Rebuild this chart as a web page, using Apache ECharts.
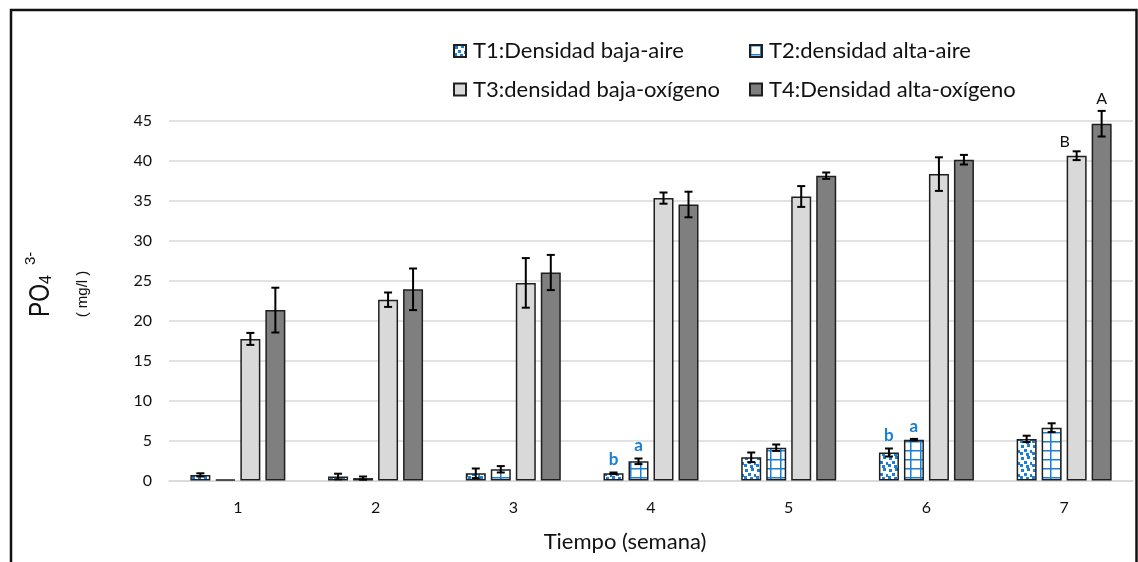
<!DOCTYPE html>
<html><head><meta charset="utf-8">
<script src="https://cdn.jsdelivr.net/npm/echarts@6/dist/echarts.min.js"></script>
<style>html,body{margin:0;padding:0;background:#fff}#c{width:1138px;height:562px}</style>
</head><body><div id="c"></div>
<script>
const categories = ['1','2','3','4','5','6','7'];
const seriesNames = ['T1:Densidad baja-aire','T2:densidad alta-aire','T3:densidad baja-oxígeno','T4:Densidad alta-oxígeno'];
const t1 = [0.7, 0.5, 0.9, 0.9, 2.9, 3.5, 5.2];
const t1Err = [0.2, 0.35, 0.6, 0.1, 0.6, 0.5, 0.4];
const t2 = [0.1, 0.3, 1.4, 2.4, 4.1, 5.1, 6.6];
const t2Err = [0, 0.2, 0.4, 0.35, 0.4, 0.1, 0.55];
const t3 = [17.7, 22.6, 24.7, 35.3, 35.5, 38.3, 40.6];
const t3Err = [0.75, 0.9, 3.1, 0.7, 1.3, 2.1, 0.55];
const t4 = [21.3, 23.9, 26.0, 34.5, 38.1, 40.1, 44.6];
const t4Err = [2.8, 2.6, 2.2, 1.6, 0.4, 0.6, 1.6];
const t1Letters = ['', '', '', 'b', '', 'b', ''];
const t2Letters = ['', '', '', 'a', '', 'a', ''];
const t3Letters = ['', '', '', '', '', '', 'B'];
const t4Letters = ['', '', '', '', '', '', 'A'];
const yTicks = [0,5,10,15,20,25,30,35,40,45];
const xTitle = 'Tiempo (semana)';

const BLUE = '#1b7fd3';
function dotPattern(){
  const c = document.createElement('canvas'); c.width = 12; c.height = 12;
  const g = c.getContext('2d'); g.fillStyle = '#fff'; g.fillRect(0,0,12,12);
  g.fillStyle = BLUE;
  [[1,1],[7,0],[4,5],[10,6],[0,8],[6,9]].forEach(p=>g.fillRect(p[0],p[1],3,3));
  return c;
}
function gridPattern(){
  const c = document.createElement('canvas'); c.width = 10; c.height = 9;
  const g = c.getContext('2d'); g.fillStyle = '#fff'; g.fillRect(0,0,10,9);
  g.fillStyle = BLUE; g.fillRect(0,0,10,1.5); g.fillRect(0,0,1.5,9);
  return c;
}
const colors = [
  {image: dotPattern(), repeat: 'repeat'},
  {image: gridPattern(), repeat: 'repeat'},
  '#d9d9d9', '#7f7f7f'
];
const values = [t1,t2,t3,t4];
const errs = [t1Err,t2Err,t3Err,t4Err];
const letters = [t1Letters,t2Letters,t3Letters,t4Letters];
const letterColors = [BLUE, BLUE, '#111', '#111'];

const FONT = 'Lato, "Open Sans", sans-serif';
const series = [];
values.forEach((v,i)=>{
  series.push({
    name: seriesNames[i], type: 'bar', data: v,
    barWidth: 20, barGap: '25%',
    itemStyle: {color: colors[i], borderColor: '#1f1f1f', borderWidth: 1.5},
    z: 2
  });
});
values.forEach((v,i)=>{
  series.push({
    name: 'err'+i, type: 'custom',
    data: v.map((val,k)=>[k, val, errs[i][k]]),
    z: 5,
    renderItem: function(params, api){
      const k = api.value(0), val = api.value(1), e = api.value(2);
      const off = (i - 1.5) * 25;
      const top = api.coord([k, val + e]);
      const bot = api.coord([k, val - e]);
      const x = top[0] + off;
      const children = [];
      if (e > 0) {
        const st = {stroke: '#000', lineWidth: 2};
        children.push({type:'line', shape:{x1:x,y1:top[1],x2:x,y2:bot[1]}, style:st});
        children.push({type:'line', shape:{x1:x-4,y1:top[1],x2:x+4,y2:top[1]}, style:st});
        children.push({type:'line', shape:{x1:x-4,y1:bot[1],x2:x+4,y2:bot[1]}, style:st});
      }
      const L = letters[i][k];
      if (L) {
        const isB = (L === 'B');
        children.push({type:'text', x: isB ? x - 12 : x, y: top[1] - (isB ? 1 : 4),
          style:{text: L, fill: letterColors[i], font: (i<2?'bold ':'') + (i<2?'17px ':'16px ') + FONT,
            align:'center', verticalAlign:'bottom'}});
      }
      return {type:'group', children};
    }
  });
});

const legends = [
  {data:[seriesNames[0]], left: 453, top: 40},
  {data:[seriesNames[1]], left: 749, top: 40},
  {data:[seriesNames[2]], left: 453, top: 78.5},
  {data:[seriesNames[3]], left: 749, top: 78.5}
].map(l=>Object.assign({
  orient:'horizontal', icon:'rect', itemWidth: 12, itemHeight: 12, itemGap: 4,
  padding: 0, selectedMode: false,
  textStyle:{fontFamily: FONT, fontSize: 22, color:'#111', padding:[0,0,0,2]}
}, l));

const option = {
  animation: false,
  backgroundColor: '#fff',
  legend: legends,
  grid: {left: 169, right: 5, top: 120.5, bottom: 81.5, outerBoundsMode: 'none', containLabel: false},
  xAxis: {
    type:'category', data: categories,
    axisLine:{lineStyle:{color:'#d9d9d9', width:1.5}},
    axisTick:{show:false},
    axisLabel:{fontFamily: FONT, fontSize: 16, color:'#111', margin: 19}
  },
  yAxis: {
    type:'value', min: yTicks[0], max: yTicks[yTicks.length-1], interval: yTicks[1]-yTicks[0],
    axisLine:{show:false}, axisTick:{show:false},
    axisLabel:{fontFamily: FONT, fontSize: 16, color:'#111', margin: 17},
    splitLine:{lineStyle:{color:'#d9d9d9', width:1.5}}
  },
  graphic: [
    {type:'rect', shape:{x:11, y:10, width:1125.5, height:600}, style:{fill:'none', stroke:'#111', lineWidth:2.5}, z:100},
    {type:'text', x: 625, y: 542, style:{text: xTitle, font:'22px ' + FONT, fill:'#111', align:'center', verticalAlign:'middle'}},
    {type:'text', x: 56, y: 317, rotation: Math.PI/2, scaleX: 0.76, style:{text:'PO', font:'30px "Liberation Sans", Arial, sans-serif', fill:'#111', align:'left', verticalAlign:'bottom'}},
    {type:'text', x: 55, y: 284, rotation: Math.PI/2, style:{text:'4', font:'16px "Liberation Sans", Arial, sans-serif', fill:'#111', align:'left', verticalAlign:'bottom'}},
    {type:'text', x: 38, y: 265, rotation: Math.PI/2, style:{text:'3-', font:'15px "Liberation Sans", Arial, sans-serif', fill:'#111', align:'left', verticalAlign:'bottom'}},
    {type:'text', x: 83, y: 294, rotation: Math.PI/2, style:{text:'( mg/l )', font:'15px "Liberation Sans", Arial, sans-serif', fill:'#111', align:'center', verticalAlign:'middle'}}
  ],
  series
};
const chart = echarts.init(document.getElementById('c'), null, {renderer:'canvas'});
chart.setOption(option);
</script></body></html>
